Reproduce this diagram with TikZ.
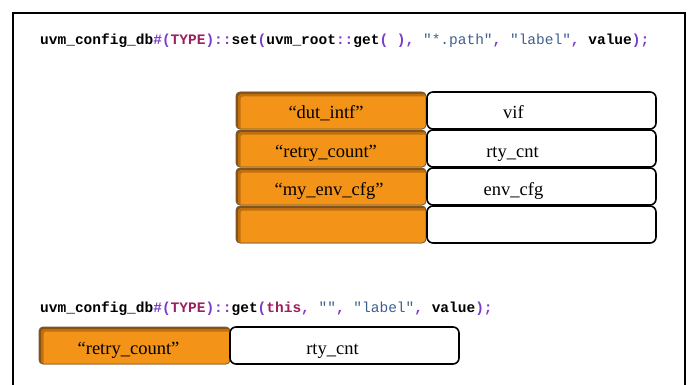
\documentclass[tikz,border=0pt]{standalone}
\usepackage{fontspec}
\setmainfont{Liberation Serif}
\setmonofont{Liberation Mono}
\definecolor{cpunct}{HTML}{7A3CC8}
\definecolor{ckw}{HTML}{9E1F5E}
\definecolor{cstr}{HTML}{3E5F8E}
\definecolor{korange}{HTML}{F39419}
\definecolor{kbrown}{HTML}{8A5208}
\definecolor{kmid}{HTML}{C06F10}
\definecolor{kborder}{HTML}{6E5C44}
\newcommand\pu[1]{\textcolor{cpunct}{#1}}
\newcommand\kw[1]{\textcolor{ckw}{#1}}
\newcommand\st[1]{\textcolor{cstr}{\mdseries #1}}
\tikzset{
  keybox/.style={rectangle, rounded corners=4pt, minimum width=190pt, minimum height=37pt,
    inner sep=0pt, text height=20pt, text depth=3pt, draw=kborder, line width=0.8pt, fill=korange,
    font=\fontsize{18.5}{20}\selectfont,
    path picture={
      \fill[kbrown] (path picture bounding box.north west) rectangle (path picture bounding box.south east);
      \fill[kmid, rounded corners=3pt] ([xshift=2pt,yshift=-2pt]path picture bounding box.north west) rectangle ([xshift=3pt,yshift=-3pt]path picture bounding box.south east);
      \fill[korange, rounded corners=3pt] ([xshift=4.5pt,yshift=-4.5pt]path picture bounding box.north west) rectangle ([xshift=3pt,yshift=-3pt]path picture bounding box.south east);
    }},
  valbox/.style={rectangle, rounded corners=6pt, minimum height=37pt, inner sep=0pt,
    text height=20pt, text depth=3pt,
    draw=black, line width=1.6pt, fill=white, font=\fontsize{18.5}{20}\selectfont},
  codeline/.style={anchor=base west, inner sep=0pt, font=\ttfamily\bfseries\fontsize{14.5}{16}\selectfont},
  frame/.style={line width=1.5pt, draw=black}
}
\begin{document}
\begin{tikzpicture}[x=1pt,y=-1pt]
\useasboundingbox (0,0) rectangle (690,385);
\draw[frame] (13,386) -- (13,13) -- (685,13) -- (685,386);

\node[codeline] (c1) at (40,44.5) {uvm\_config\_db\pu{\#(}\kw{TYPE}\pu{)::}set\pu{(}uvm\_root\pu{::}get\pu{( ), }\st{"*.path"}\pu{, }\st{"label"}\pu{, }value\pu{);}};

\node[keybox] (k1) at (331,110.5) {“dut\_intf”\hspace*{10pt}};
\node[keybox] (k2) at (331,148.5) {“retry\_count”\hspace*{10pt}};
\node[keybox] (k3) at (331,186.5) {“my\_env\_cfg”\hspace*{4pt}};
\node[keybox] (k4) at (331,224.5) {};

\node[valbox, minimum width=229pt] (v1) at (541.5,110.5) {vif\hspace*{56pt}};
\node[valbox, minimum width=229pt] (v2) at (541.5,148.5) {rty\_cnt\hspace*{58pt}};
\node[valbox, minimum width=229pt] (v3) at (541.5,186.5) {env\_cfg\hspace*{56pt}};
\node[valbox, minimum width=229pt] (v4) at (541.5,224.5) {};

\node[codeline] (c2) at (40,312.5) {uvm\_config\_db\pu{\#(}\kw{TYPE}\pu{)::}get\pu{(}\kw{this}\pu{, }\st{""}\pu{, }\st{"label"}\pu{, }value\pu{);}};

\node[keybox, minimum width=191pt] (kb) at (134.5,345.5) {“retry\_count”\hspace*{12pt}};
\node[valbox, minimum width=229pt] (vb) at (344.5,345.5) {rty\_cnt\hspace*{24pt}};
\end{tikzpicture}
\end{document}
